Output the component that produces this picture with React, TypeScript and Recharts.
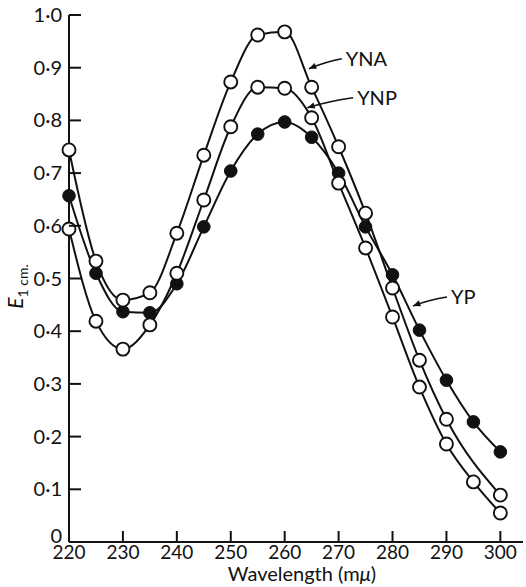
import { Label, Line, LineChart, ReferenceLine, XAxis, YAxis } from "recharts";

// wavelength (mμ) and E1cm.
const wavelengths = [220, 225, 230, 235, 240, 245, 250, 255, 260, 265, 270, 275, 280, 285, 290, 295, 300];
const ynaValues = [0.744, 0.533, 0.459, 0.473, 0.586, 0.734, 0.873, 0.962, 0.968, 0.863, 0.75, 0.624, 0.482, 0.345, 0.233, null, 0.089];
const ynpValues = [0.594, 0.419, 0.366, 0.412, 0.51, 0.649, 0.788, 0.863, 0.861, 0.805, 0.681, 0.558, 0.427, 0.294, 0.186, 0.114, 0.055];
const ypValues = [0.657, 0.51, 0.437, 0.435, 0.49, 0.598, 0.704, 0.774, 0.797, 0.768, 0.7, 0.598, 0.507, 0.402, 0.307, 0.228, 0.171];

const xTicks = [220, 230, 240, 250, 260, 270, 280, 290, 300];
const yTicks = [0, 0.1, 0.2, 0.3, 0.4, 0.5, 0.6, 0.7, 0.8, 0.9, 1.0];

// curve labels: text sits at the arrow tail, arrow head on the curve
const annotations = [
  { text: "YNA", tail: { x: 270.6, y: 0.917 }, tip: { x: 264.5, y: 0.898 } },
  { text: "YNP", tail: { x: 272.7, y: 0.843 }, tip: { x: 264.2, y: 0.824 } },
  { text: "YP", tail: { x: 290.1, y: 0.465 }, tip: { x: 283.8, y: 0.448 } },
];

const FONT = "Lato, 'DejaVu Sans', sans-serif";
const INK = "#111";

const data = wavelengths.map((w, i) => ({
  w,
  YNA: ynaValues[i],
  YNP: ynpValues[i],
  YP: ypValues[i],
}));

const fmtY = (v: number) => (v === 0 ? "0" : v.toFixed(1).replace(".", "·"));

function YTick({ x, y, payload }: any) {
  const ax = x + 7;
  // the zero label sits a little above the x axis
  const ty = payload.value === 0 ? y + 1 : y + 7;
  return (
    <g>
      <line x1={ax} x2={ax + 12} y1={y} y2={y} stroke={INK} strokeWidth={2} />
      <text x={x} y={ty} textAnchor="end" fontSize={20} fontFamily={FONT} fill={INK}>
        {fmtY(payload.value)}
      </text>
    </g>
  );
}

function XTick({ x, y, payload }: any) {
  const ay = y - 3;
  return (
    <g>
      <line x1={x} x2={x} y1={ay} y2={ay - 11} stroke={INK} strokeWidth={2} />
      <text x={x} y={ay + 17} textAnchor="middle" fontSize={19} fontFamily={FONT} fill={INK}>
        {payload.value}
      </text>
    </g>
  );
}

function OpenDot({ cx, cy, index }: any) {
  if (cy == null || Number.isNaN(cy)) return <g key={index} />;
  return <circle key={index} cx={cx} cy={cy} r={6.5} fill="#fff" stroke={INK} strokeWidth={1.9} />;
}

function FilledDot({ cx, cy, index }: any) {
  if (cy == null || Number.isNaN(cy)) return <g key={index} />;
  return <circle key={index} cx={cx} cy={cy} r={6.3} fill={INK} stroke={INK} strokeWidth={1} />;
}

function Arrow({ x1, y1, x2, y2, text }: any) {
  const mx = (x1 + x2) / 2;
  const my = (y1 + y2) / 2 - 2;
  const ang = Math.atan2(y2 - my, x2 - mx);
  const len = 8;
  const spread = 0.4;
  const ax1 = x2 - len * Math.cos(ang - spread);
  const ay1 = y2 - len * Math.sin(ang - spread);
  const ax2 = x2 - len * Math.cos(ang + spread);
  const ay2 = y2 - len * Math.sin(ang + spread);
  return (
    <g>
      <path d={`M${x1},${y1} Q${mx},${my} ${x2},${y2}`} fill="none" stroke={INK} strokeWidth={1.6} />
      <path d={`M${x2},${y2} L${ax1},${ay1} L${ax2},${ay2} Z`} fill={INK} />
      <text x={x1 + 4} y={y1 + 7} fontSize={20} fontFamily={FONT} fill={INK}>
        {text}
      </text>
    </g>
  );
}

export default function App() {
  return (
    <div style={{ position: "absolute", left: 0, top: 0, background: "#fff" }}>
      <LineChart
        width={526}
        height={587}
        data={data}
        margin={{ top: 15, right: 3, bottom: 0, left: 0 }}
      >
        <XAxis
          dataKey="w"
          type="number"
          domain={[220, 304.2]}
          ticks={xTicks}
          tickLine={false}
          tickSize={0}
          tickMargin={3}
          tick={<XTick />}
          axisLine={{ stroke: INK, strokeWidth: 2 }}
          height={45}
          interval={0}
        >
          <Label
            content={({ viewBox }: any) => (
              <text
                x={viewBox.x + viewBox.width / 2 + 6}
                y={viewBox.y + 39}
                textAnchor="middle"
                fontSize={20}
                fontFamily={FONT}
                fill={INK}
              >
                Wavelength (m<tspan fontStyle="italic">μ</tspan>)
              </text>
            )}
          />
        </XAxis>
        <YAxis
          type="number"
          domain={[0, 1]}
          ticks={yTicks}
          width={69}
          tickLine={false}
          tickSize={0}
          tickMargin={7}
          tick={<YTick />}
          axisLine={{ stroke: INK, strokeWidth: 2 }}
          interval={0}
        >
          <Label
            content={({ viewBox }: any) => {
              const cx = viewBox.x + 23;
              const cy = viewBox.y + viewBox.height / 2 + 8;
              return (
                <text
                  x={cx}
                  y={cy}
                  transform={`rotate(-90 ${cx} ${cy})`}
                  textAnchor="middle"
                  fontSize={21}
                  fontFamily={FONT}
                  fill={INK}
                >
                  <tspan fontStyle="italic">E</tspan>
                  <tspan fontSize={14} dy={5}>1 cm.</tspan>
                </text>
              );
            }}
          />
        </YAxis>
        <Line
          dataKey="YP"
          type="monotone"
          stroke={INK}
          strokeWidth={2}
          dot={<FilledDot />}
          isAnimationActive={false}
        />
        <Line
          dataKey="YNP"
          type="monotone"
          stroke={INK}
          strokeWidth={2}
          dot={<OpenDot />}
          isAnimationActive={false}
        />
        <Line
          dataKey="YNA"
          type="monotone"
          stroke={INK}
          strokeWidth={2}
          connectNulls
          dot={<OpenDot />}
          isAnimationActive={false}
        />
        {annotations.map((a) => (
          <ReferenceLine
            key={a.text}
            segment={[a.tail, a.tip]}
            ifOverflow="visible"
            shape={(p: any) => <Arrow {...p} text={a.text} />}
          />
        ))}
      </LineChart>
    </div>
  );
}
